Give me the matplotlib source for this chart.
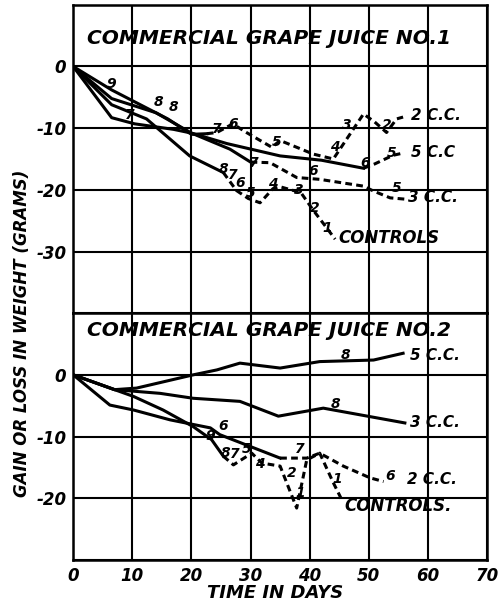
import matplotlib
matplotlib.use("Agg")
import matplotlib.pyplot as plt

# ---- data (days, grams) ----
# panel 1 : commercial grape juice no. 1
p1_ctrl_days = [0, 6.5, 12.4, 19.7, 25.4, 27.6, 29.6, 31.6, 33.8, 35, 37.2, 38.4, 40.6, 42.9, 44.3]
p1_ctrl_g = [0, -6.2, -8.5, -14.5, -17.2, -20.1, -21.4, -22.1, -19.8, -19.5, -20.1, -20.3, -23.3, -26.2, -28]
p1_ctrl_solid = 5

p1_2cc_days = [0, 6.5, 16, 20, 22.6, 24.3, 27, 29.3, 33.6, 35, 40.6, 44, 49.1, 51, 53, 54.7, 55.8]
p1_2cc_g = [0, -3.8, -8.5, -11, -10.9, -10.7, -9.3, -10.7, -13.1, -12, -14.2, -15, -7.7, -9, -10.7, -8.5, -8.2]
p1_2cc_solid = 5

p1_5cc_days = [0, 6.5, 14, 20, 26, 35, 42, 49.1, 51, 54.1, 56]
p1_5cc_g = [0, -5.2, -7.5, -10.8, -12.5, -14.5, -15.2, -16.5, -15.8, -14.4, -14]
p1_5cc_solid = 8

p1_3cc_days = [0, 6.5, 10.4, 17, 20, 26.5, 30, 33.3, 37.8, 41.7, 49.1, 50.8, 53.6, 56]
p1_3cc_g = [0, -8.3, -9.3, -10.2, -10.8, -13.4, -15.5, -15.6, -18, -18.3, -19.4, -20.2, -21.3, -21.5]
p1_3cc_solid = 7

# panel 2 : commercial grape juice no. 2
p2_5cc_days = [0, 7, 10.7, 20.3, 24.3, 28.2, 35, 41.7, 50.8, 55.8]
p2_5cc_g = [0, -2.4, -2.15, 0, 0.8, 1.9, 1.1, 2.15, 2.4, 3.5]

p2_3cc_days = [0, 7, 14.7, 20.3, 28.2, 34.7, 42.3, 56.1]
p2_3cc_g = [0, -2.4, -3.0, -3.8, -4.3, -6.7, -5.4, -7.8]

p2_2cc_days = [0, 6.2, 10.2, 16.4, 23.2, 24.8, 29.9, 35, 39.5, 41.7, 45.7, 50.2, 52.5]
p2_2cc_g = [0, -4.9, -5.7, -7.3, -8.6, -9.7, -11.6, -13.5, -13.5, -12.7, -14.8, -16.7, -17.3]
p2_2cc_solid = 8

p2_ctrl_days = [0, 10.2, 15.2, 20.3, 23.4, 25.4, 27.1, 30.2, 31.9, 35, 37.8, 39.5, 41.7, 44, 45.4]
p2_ctrl_g = [0, -3.5, -5.7, -8.4, -10.5, -13.2, -14.6, -12.7, -14.3, -14.8, -21.6, -13.8, -12.7, -17.5, -20.2]
p2_ctrl_solid = 6

# small numbers written along the curves
p1_num_days = [6.5, 9.6, 14.4, 17.0, 24.3, 27.1, 34.4, 44.3, 46.2, 53.0, 49.4, 53.9,
               30.5, 40.6, 54.7, 25.5, 26.9, 28.3, 30.0, 33.8, 38.1, 40.9, 42.9]
p1_num_g = [-2.8, -7.9, -5.8, -6.6, -10.1, -9.3, -12.2, -13.0, -9.5, -9.5, -15.7, -14.1,
            -15.7, -17.0, -19.7, -16.7, -17.6, -18.9, -20.5, -19.0, -20.0, -23.0, -26.2]
p1_num_txt = ["9", "7", "8", "8", "7", "6", "5", "4", "3", "2", "6", "5",
              "7", "6", "5", "8", "7", "6", "5", "4", "3", "2", "1"]

p2_num_days = [46.0, 44.3, 25.4, 38.4, 53.6, 23.2, 25.7, 27.4, 29.3, 31.6, 36.9, 38.4, 44.6]
p2_num_g = [3.2, -4.8, -8.3, -12.1, -16.4, -9.9, -12.6, -12.9, -12.1, -14.5, -15.9, -19.1, -16.9]
p2_num_txt = ["8", "8", "6", "7", "6", "9", "8", "7", "5", "4", "2", "1", "1"]

# curve names
p1_names = ["2 C.C.", "5 C.C", "3 C.C.", "CONTROLS"]
p1_name_days = [57.2, 57.2, 56.6, 44.8]
p1_name_g = [-8.0, -13.9, -21.3, -27.8]

p2_names = ["5 C.C.", "3 C.C.", "2 C.C.", "CONTROLS."]
p2_name_days = [57.0, 57.0, 56.5, 45.8]
p2_name_g = [3.2, -7.8, -16.9, -21.2]

x_ticks = [0, 10, 20, 30, 40, 50, 60, 70]
p1_yticks = [0, -10, -20, -30]
p2_yticks = [0, -10, -20]

FONT = "Liberation Sans Narrow"
LW = 2.2
DASH = (2.2, 1.4)


def hand(ax, x, y, s, size=11, **kw):
    ax.text(x, y, s, fontsize=size, family=FONT, weight="bold", style="italic", **kw)


def curve(ax, days, g, n_solid=None):
    if n_solid is None:
        ax.plot(days, g, color="black", lw=LW, zorder=3)
        return
    ax.plot(days[:n_solid], g[:n_solid], color="black", lw=LW, zorder=3)
    ax.plot(days[n_solid - 1:], g[n_solid - 1:], color="black", lw=LW, zorder=3,
            dashes=DASH)


fig = plt.figure(figsize=(4.98, 6.02), dpi=100)
gs = fig.add_gridspec(2, 1, height_ratios=[5, 4], hspace=0,
                      left=0.147, right=0.978, top=0.992, bottom=0.07)
ax1 = fig.add_subplot(gs[0])
ax2 = fig.add_subplot(gs[1], sharex=ax1)

for ax, lo in ((ax1, -40), (ax2, -30)):
    ax.set_xlim(0, 70)
    ax.set_ylim(lo, 10)
    ax.set_yticks(range(lo, 11, 10))
    ax.set_xticks(x_ticks)
    ax.grid(True, color="black", lw=1.5)
    ax.set_axisbelow(True)
    ax.tick_params(length=0, pad=5)
    for sp in ax.spines.values():
        sp.set_linewidth(1.8)

ax1.set_yticklabels([str(v) if v in p1_yticks else "" for v in range(-40, 11, 10)])
ax2.set_yticklabels([str(v) if v in p2_yticks else "" for v in range(-30, 11, 10)])
ax1.tick_params(labelbottom=False)
ax2.set_xticklabels([str(v) for v in x_ticks])
for ax in (ax1, ax2):
    for lab in ax.get_xticklabels() + ax.get_yticklabels():
        lab.set_family(FONT)
        lab.set_weight("bold")
        lab.set_style("italic")
        lab.set_fontsize(12)

curve(ax1, p1_ctrl_days, p1_ctrl_g, p1_ctrl_solid)
curve(ax1, p1_2cc_days, p1_2cc_g, p1_2cc_solid)
curve(ax1, p1_5cc_days, p1_5cc_g, p1_5cc_solid)
curve(ax1, p1_3cc_days, p1_3cc_g, p1_3cc_solid)

curve(ax2, p2_5cc_days, p2_5cc_g)
curve(ax2, p2_3cc_days, p2_3cc_g)
curve(ax2, p2_2cc_days, p2_2cc_g, p2_2cc_solid)
curve(ax2, p2_ctrl_days, p2_ctrl_g, p2_ctrl_solid)

for d, g, t in zip(p1_num_days, p1_num_g, p1_num_txt):
    hand(ax1, d, g, t, size=10, ha="center", va="center", zorder=4)
for d, g, t in zip(p2_num_days, p2_num_g, p2_num_txt):
    hand(ax2, d, g, t, size=10, ha="center", va="center", zorder=4)
for d, g, t in zip(p1_name_days, p1_name_g, p1_names):
    hand(ax1, d, g, t, size=11 if "C.C" in t else 12, ha="left", va="center", zorder=4)
for d, g, t in zip(p2_name_days, p2_name_g, p2_names):
    hand(ax2, d, g, t, size=11 if "C.C" in t else 12, ha="left", va="center", zorder=4)

hand(ax1, 2.3, 4.6, "COMMERCIAL GRAPE JUICE NO.1", size=14.5, ha="left", va="center")
hand(ax2, 2.3, 7.2, "COMMERCIAL GRAPE JUICE NO.2", size=14.5, ha="left", va="center")

fig.text(0.045, 0.447, "GAIN OR LOSS IN WEIGHT (GRAMS)", rotation=90, ha="center",
         va="center", fontsize=12, family=FONT, weight="bold", style="italic")
fig.text(0.552, 0.015, "TIME IN DAYS", ha="center", va="center", fontsize=13,
         family=FONT, weight="bold", style="italic")

fig.savefig("out.png", dpi=100)
